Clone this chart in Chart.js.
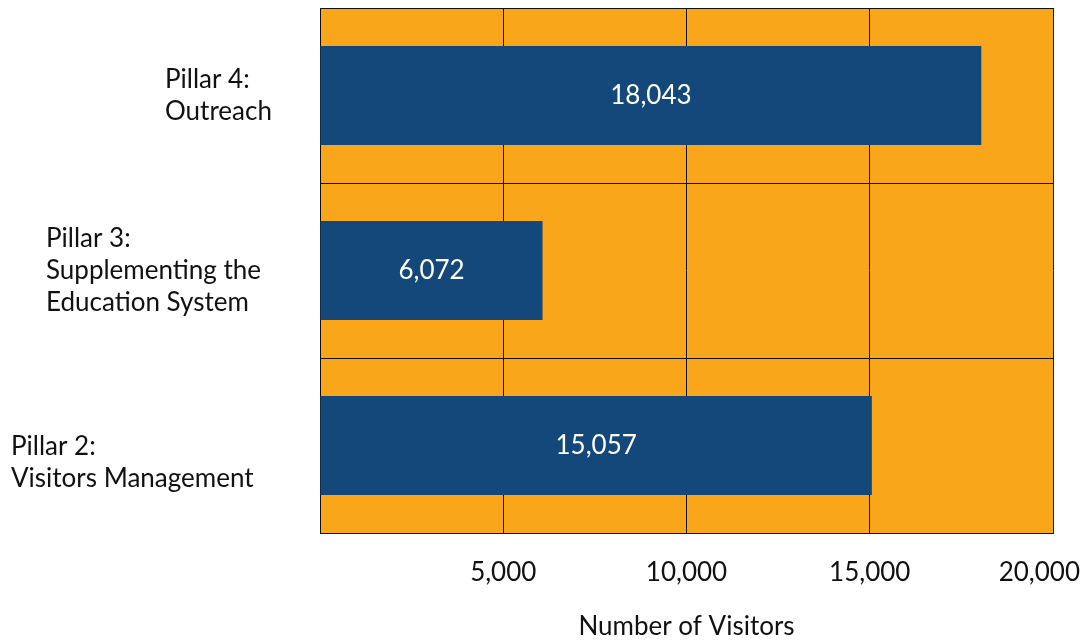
<!DOCTYPE html>
<html>
<head>
<meta charset="utf-8">
<script src="https://cdn.jsdelivr.net/npm/chart.js@4"></script>
<style>
  html, body { margin: 0; padding: 0; background: #fff; }
  #wrap { width: 1087px; height: 640px; }
</style>
</head>
<body>
<div id="wrap"><canvas id="visitorsChart" width="1087" height="640"></canvas></div>
<script>
// data
const pillars = [
  ['Pillar 4:', 'Outreach'],
  ['Pillar 3:', 'Supplementing the', 'Education System'],
  ['Pillar 2:', 'Visitors Management']
];
const visitors = [18043, 6072, 15057];
const xTicks = [5000, 10000, 15000, 20000];

// where each category label block starts, and its nudge down from bar centre
const labelLeft = [165, 46, 11];
const labelNudge = [0, 0, 17];

const FONT = 'Lato, "Noto Sans", sans-serif';
const orange = '#F9A61B';
const navy = '#14487A';

function fmt(n) {
  return n.toLocaleString('en-US');
}

const paintPlot = {
  id: 'paintPlot',
  beforeDraw(chart) {
    const { ctx, chartArea: a } = chart;
    ctx.save();
    ctx.fillStyle = orange;
    ctx.fillRect(a.left, a.top, a.right - a.left, a.bottom - a.top);
    ctx.restore();
  },
  afterDraw(chart) {
    const ctx = chart.ctx;
    const xs = chart.scales.x, ys = chart.scales.y;
    ctx.save();
    ctx.font = '26px ' + FONT;
    ctx.textBaseline = 'middle';

    // category labels
    ctx.fillStyle = '#111';
    ctx.textAlign = 'left';
    pillars.forEach((lines, i) => {
      const cy = ys.getPixelForValue(i) + labelNudge[i];
      const lh = 32;
      const top = cy - (lines.length - 1) * lh / 2;
      lines.forEach((t, j) => ctx.fillText(t, labelLeft[i], top + j * lh));
    });

    // x tick labels
    ctx.textAlign = 'center';
    xTicks.forEach(v => {
      const t = fmt(v);
      const w = ctx.measureText(t).width;
      let px = xs.getPixelForValue(v);
      px = Math.min(px, chart.width - 7 - w / 2);
      ctx.fillText(t, px, 573);
    });

    // values inside bars
    ctx.fillStyle = '#fff';
    const meta = chart.getDatasetMeta(0);
    meta.data.forEach((bar, i) => {
      const cx = (bar.base + bar.x) / 2;
      ctx.fillText(fmt(visitors[i]), cx, bar.y);
    });
    ctx.restore();
  }
};

new Chart(document.getElementById('visitorsChart'), {
  type: 'bar',
  data: {
    labels: pillars,
    datasets: [{
      data: visitors,
      backgroundColor: navy,
      borderWidth: 0,
      categoryPercentage: 1,
      barPercentage: 0.565
    }]
  },
  options: {
    indexAxis: 'y',
    responsive: false,
    animation: false,
    layout: { padding: { left: 320, right: 34, top: 8, bottom: 0 } },
    plugins: {
      legend: { display: false },
      tooltip: { enabled: false }
    },
    scales: {
      x: {
        min: 0,
        max: 20000,
        ticks: { display: false, stepSize: 5000 },
        grid: { color: '#111', lineWidth: 1, drawTicks: false },
        border: { color: '#111', width: 1 },
        title: {
          display: true,
          text: 'Number of Visitors',
          color: '#111',
          font: { family: FONT, size: 26, lineHeight: 1 },
          padding: { top: 81, bottom: 0 }
        }
      },
      y: {
        ticks: { display: false },
        grid: { color: '#111', lineWidth: 1, drawTicks: false },
        border: { color: '#111', width: 1 }
      }
    }
  },
  plugins: [paintPlot]
});
</script>
</body>
</html>
